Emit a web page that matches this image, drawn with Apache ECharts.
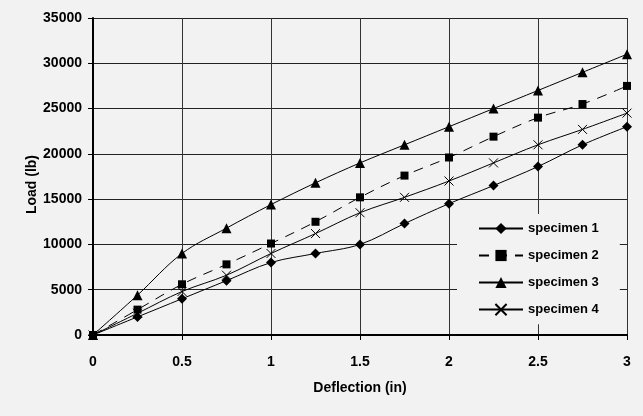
<!DOCTYPE html>
<html>
<head>
<meta charset="utf-8">
<script src="https://cdn.jsdelivr.net/npm/echarts@6/dist/echarts.min.js"></script>
<style>
  html, body { margin: 0; padding: 0; background: #f2f2f2; }
  #chart { width: 643px; height: 416px; }
</style>
</head>
<body>
<div id="chart"></div>
<script>
const deflection = [0, 0.25, 0.5, 0.75, 1, 1.25, 1.5, 1.75, 2, 2.25, 2.5, 2.75, 3];
const specimen1 = [0, 2000, 4000, 6000, 8000, 9000, 10000, 12300, 14500, 16500, 18600, 21000, 23000];
const specimen2 = [0, 2800, 5600, 7800, 10100, 12500, 15200, 17600, 19600, 21900, 24000, 25500, 27500];
const specimen3 = [0, 4400, 9000, 11800, 14400, 16800, 19000, 21000, 23000, 25000, 27000, 29000, 31000];
const specimen4 = [0, 2400, 4800, 6600, 9000, 11200, 13500, 15200, 17000, 19000, 21000, 22700, 24500];
const seriesNames = ['specimen 1', 'specimen 2', 'specimen 3', 'specimen 4'];

const FONT = '"Liberation Sans", Arial, sans-serif';
const crossPath = 'path://M0,0 L10,10 M10,0 L0,10';

const toPoints = (arr) => arr.map((v, i) => [deflection[i], v]);

// one line series
const makeSeries = (name, arr, symbol, size, dashed, hollow) => {
  return {
    name: name,
    type: 'line',
    data: toPoints(arr),
    smooth: 0.35,
    symbol: symbol,
    symbolSize: size,
    showAllSymbol: true,
    lineStyle: { color: '#000', width: 1, type: dashed ? [10, 8] : 'solid' },
    itemStyle: hollow
      ? { color: 'rgba(0,0,0,0)', borderColor: '#000', borderWidth: 1 }
      : { color: '#000', borderColor: '#000', borderWidth: 0 },
    emphasis: { disabled: true },
    z: 3
  }
}

const chart = echarts.init(document.getElementById('chart'));
const option = {
  backgroundColor: '#f2f2f2',
  animation: false,
  grid: { left: 93, right: 16, top: 18, bottom: 81 },
  legend: {
    orient: 'vertical',
    left: 457,
    top: 214,
    padding: [8, 21, 8, 21],
    backgroundColor: '#f2f2f2',
    itemWidth: 44,
    itemHeight: 14,
    itemGap: 14,
    data: seriesNames,
    textStyle: { fontFamily: FONT, fontWeight: 'bold', fontSize: 13, color: '#000' },
    z: 5
  },
  xAxis: {
    type: 'value',
    min: 0,
    max: 3,
    interval: 0.5,
    name: 'Deflection (in)',
    nameLocation: 'middle',
    nameGap: 46,
    nameTextStyle: { fontFamily: FONT, fontWeight: 'bold', fontSize: 14, color: '#000' },
    axisLine: { show: true, onZero: false, lineStyle: { color: '#000', width: 2 } },
    axisTick: { show: true, length: 5, lineStyle: { color: '#000' } },
    axisLabel: { margin: 20, fontFamily: FONT, fontWeight: 'bold', fontSize: 14, color: '#000' },
    splitLine: { show: true, lineStyle: { color: '#333', width: 1 } }
  },
  yAxis: {
    type: 'value',
    min: 0,
    max: 35000,
    interval: 5000,
    axisLine: { show: true, onZero: false, lineStyle: { color: '#000', width: 2 } },
    axisTick: { show: true, length: 5, lineStyle: { color: '#000' } },
    axisLabel: {
      margin: 11,
      formatter: (v) => String(v),
      fontFamily: FONT, fontWeight: 'bold', fontSize: 14, color: '#000'
    },
    splitLine: { show: true, lineStyle: { color: '#222', width: 1 } }
  },
  graphic: [{
    type: 'text',
    left: 25,
    top: 155,
    rotation: Math.PI / 2,
    style: { text: 'Load (lb)', fontFamily: FONT, fontWeight: 'bold', fontSize: 14, fill: '#000' }
  }],
  series: [
    makeSeries(seriesNames[0], specimen1, 'diamond', 10, false, false),
    makeSeries(seriesNames[1], specimen2, 'rect', 8, true, false),
    makeSeries(seriesNames[2], specimen3, 'triangle', 10, false, false),
    makeSeries(seriesNames[3], specimen4, crossPath, 9, false, true)
  ]
};
chart.setOption(option);
</script>
</body>
</html>
